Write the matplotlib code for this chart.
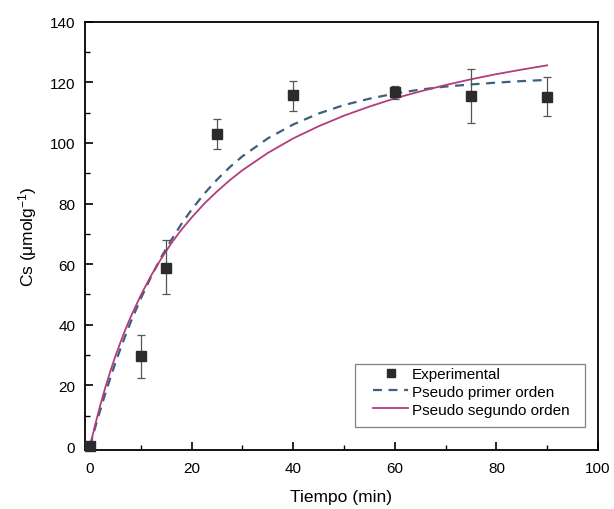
import matplotlib
matplotlib.use('Agg')
import matplotlib.pyplot as plt
from matplotlib.lines import Line2D
from matplotlib.patches import Rectangle
from matplotlib.ticker import MultipleLocator

plt.rcParams['font.family'] = ['Liberation Sans', 'DejaVu Sans']
plt.rcParams['mathtext.fontset'] = 'custom'
plt.rcParams['mathtext.rm'] = 'Liberation Sans'
plt.rcParams['mathtext.it'] = 'Liberation Sans:italic'

# experimental points (time in min, Cs in umol/g) with error bars
t_exp = [0, 10, 15, 25, 40, 60, 75, 90]
cs_exp = [0, 29.7, 58.8, 103, 115.7, 116.7, 115.5, 115.3]
err_low = [0, 7.4, 8.8, 5, 5.1, 2.3, 8.8, 6.4]
err_high = [0, 7.1, 9.3, 5, 4.8, 2.1, 8.8, 6.3]

# fitted curves
t_fit = [0, 1, 2, 3, 4, 5, 6, 7, 8, 10, 12, 14, 16, 18, 20, 22.5, 25, 27.5,
         30, 35, 40, 45, 50, 55, 60, 65, 70, 75, 80, 85, 90]
cs_first = [0, 6.1, 11.8, 17.3, 22.5, 27.5, 32.2, 36.6, 40.9, 48.7, 55.8,
            62.3, 68.0, 73.3, 78.0, 83.3, 87.9, 92.0, 95.6, 101.5, 106.1,
            109.7, 112.5, 114.6, 116.3, 117.6, 118.6, 119.3, 119.9, 120.4, 120.8]
cs_second = [0, 7.0, 13.4, 19.3, 24.7, 29.7, 34.3, 38.6, 42.6, 49.8, 56.2,
             61.8, 66.9, 71.4, 75.4, 80.0, 84.0, 87.7, 91.0, 96.7, 101.5,
             105.5, 109.0, 112.0, 114.7, 117.0, 119.1, 121.0, 122.7, 124.2, 125.6]

fig = plt.figure(figsize=(6.14, 5.10), dpi=100)
ax = fig.add_axes([0.1384, 0.1157, 0.8355, 0.8398])

ax.plot(t_fit, cs_first, '--', color='#3d5f80', lw=1.6, dashes=(4, 3),
        label='Pseudo primer orden', zorder=3)
ax.plot(t_fit, cs_second, '-', color='#b23d7a', lw=1.3,
        label='Pseudo segundo orden', zorder=3)
ax.errorbar(t_exp, cs_exp, yerr=[err_low, err_high], fmt='s', color='#2b2b2b',
            ms=7, ecolor='#555555', elinewidth=0.9, capsize=3, capthick=0.9,
            zorder=4, clip_on=False)

ax.set_xlim(-1, 100)
ax.set_ylim(-1.3, 140)
ax.xaxis.set_major_locator(MultipleLocator(20))
ax.xaxis.set_minor_locator(MultipleLocator(10))
ax.yaxis.set_major_locator(MultipleLocator(20))
ax.yaxis.set_minor_locator(MultipleLocator(10))
ax.tick_params(which='both', direction='in', top=False, right=False, labelsize=11)
ax.tick_params(which='major', length=6, width=1.2)
ax.tick_params(which='minor', length=3.5, width=1)
ax.tick_params(axis='x', pad=8)
ax.tick_params(axis='y', pad=7)
for s in ax.spines.values():
    s.set_linewidth(1.3)

ax.set_xlabel('Tiempo (min)', fontsize=12.5, labelpad=10)
ax.set_ylabel('Cs (μmolg$^{-1}$)', fontsize=12.5, labelpad=8)

# legend without its own frame; a box drawn behind it as in the figure
exp_handle = Line2D([], [], marker='s', ls='none', color='#2b2b2b', ms=6)
h, l = ax.get_legend_handles_labels()
leg = fig.legend([exp_handle] + h, ['Experimental'] + l,
                 loc='upper left', bbox_to_anchor=(373 / 614, 1 - 368 / 510),
                 fontsize=11, frameon=False, handlelength=2.3, borderpad=0,
                 borderaxespad=0, labelspacing=0.25, handletextpad=0.25)
fig.add_artist(Rectangle((355 / 614, 1 - 428 / 510), 230 / 614, 63 / 510,
                         transform=fig.transFigure, fill=True, fc='white',
                         ec='#808080', lw=0.9, zorder=2))
leg.set_zorder(3)

fig.savefig('out.png', dpi=100)
